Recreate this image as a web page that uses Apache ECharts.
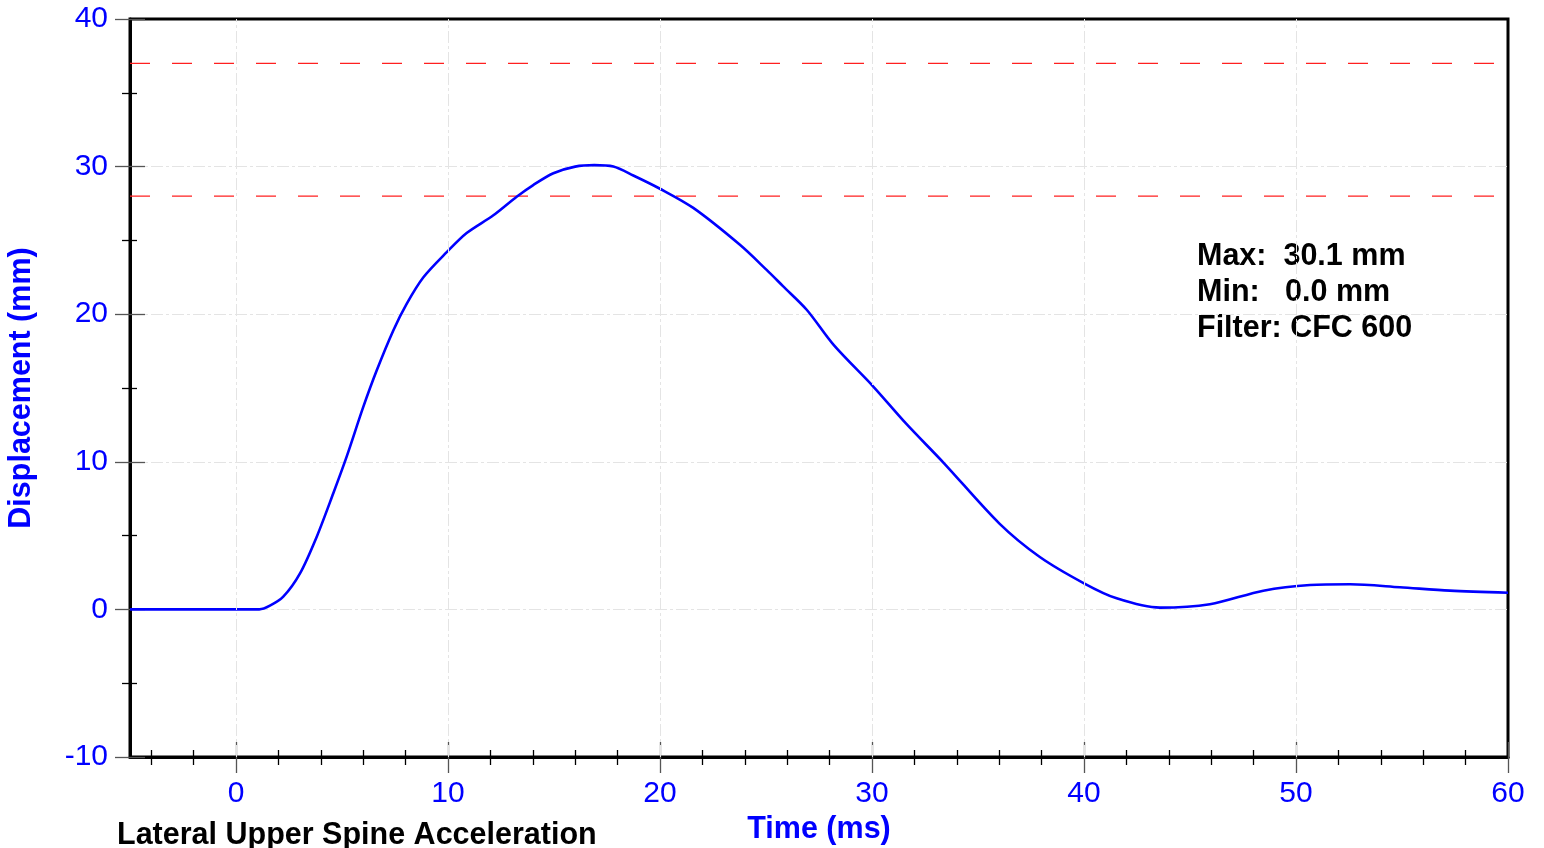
<!DOCTYPE html>
<html>
<head>
<meta charset="utf-8">
<script src="https://cdn.jsdelivr.net/npm/echarts@6/dist/echarts.min.js"></script>
<style>
html, body { margin: 0; padding: 0; background: #fff; }
#chart { width: 1544px; height: 848px; }
</style>
</head>
<body>
<div id="chart"></div>
<script>
// displacement trace
const times = [-5, 1.1, 1.6, 2.23, 3.02, 3.81, 4.59, 5.22, 6.0, 6.64, 7.42, 8.05, 8.84, 9.94, 10.88, 12.14, 13.24, 14.02, 14.97, 16.0, 16.9, 17.8, 18.74, 20.0, 21.57, 23.77, 25.03, 25.8, 26.92, 28.2, 30.06, 31.6, 33.4, 36.0, 37.9, 40.0, 41.54, 43.58, 45.94, 48.46, 50.66, 52.55, 54.9, 57.26, 60];
const displacement = [0, 0, 0.25, 0.86, 2.44, 4.93, 7.87, 10.35, 13.7, 16.2, 18.9, 20.7, 22.5, 24.2, 25.5, 26.7, 27.96, 28.75, 29.55, 30.0, 30.1, 30.0, 29.4, 28.5, 27.2, 24.7, 23.0, 21.9, 20.3, 17.9, 15.1, 12.6, 9.9, 5.83, 3.57, 1.77, 0.75, 0.12, 0.35, 1.27, 1.65, 1.7, 1.5, 1.27, 1.13];

// limit lines (mm)
const limits = [37, 28];

// axis range and ticks
const xMin = -5, xMax = 60;
const yMin = -10, yMax = 40;
const xMajor = [0, 10, 20, 30, 40, 50, 60];
const xMinor = [-4, -2, 2, 4, 6, 8, 12, 14, 16, 18, 22, 24, 26, 28, 32, 34, 36, 38, 42, 44, 46, 48, 52, 54, 56, 58];
const xGrid = [0, 10, 20, 30, 40, 50];
const yMajor = [-10, 0, 10, 20, 30, 40];
const yMinor = [-5, 5, 15, 25, 35];

const filterName = 'CFC 600';
const chartTitle = 'Lateral Upper Spine Acceleration';

const maxVal = Math.max(...displacement);
const minVal = Math.min(...displacement);

const blue = '#0000ff';
const font = '"Liberation Sans", Arial, sans-serif';
const gridStyle = { color: '#e4e4e4', width: 1, type: [12, 3, 3, 3] };
const plotRect = { left: 130, right: 36, top: 19, bottom: 91, outerBoundsMode: 'none' };

const chart = echarts.init(document.getElementById('chart'));

// extra axes that only draw ticks crossing the frame
const tickAxisX = (idx, vals, off, len, color) => ({
    gridIndex: idx, type: 'value', min: xMin, max: xMax, position: 'bottom', offset: off,
    axisLine: { show: false, onZero: false },
    axisLabel: { show: false },
    splitLine: { show: false },
    axisTick: { show: true, customValues: vals, length: len, lineStyle: { color: color, width: 1.3 } }
});

const tickAxisY = (idx, vals, off, len, color) => ({
    gridIndex: idx, type: 'value', min: yMin, max: yMax, position: 'left', offset: off,
    axisLine: { show: false, onZero: false },
    axisLabel: { show: false },
    splitLine: { show: false },
    axisTick: { show: true, customValues: vals, length: len, lineStyle: { color: color, width: 1.3 } }
});

const limitSeries = limits.map(v => ({
    type: 'line', silent: true, z: 2, showSymbol: false,
    data: [[xMin, v], [xMax, v]],
    lineStyle: { color: '#ff2020', width: 1.2, type: [20, 22] }
}));

const option = {
    animation: false,
    grid: [
        Object.assign({ show: true, borderColor: '#000', borderWidth: 3 }, plotRect),
        Object.assign({}, plotRect),
        Object.assign({}, plotRect)
    ],
    xAxis: [
        {
            gridIndex: 0, type: 'value', min: xMin, max: xMax, position: 'bottom',
            name: 'Time (ms)', nameLocation: 'middle', nameGap: 56,
            nameTextStyle: { color: blue, fontSize: 30.5, fontWeight: 'bold', fontFamily: font },
            axisLine: { show: true, onZero: false, lineStyle: { color: '#000', width: 3 } },
            axisTick: { show: false },
            splitLine: { show: false },
            axisLabel: { customValues: xMajor, color: blue, fontSize: 30, fontFamily: font, margin: 22 }
        },
        tickAxisX(1, xMajor, -15, 31, '#555'),
        tickAxisX(2, xMinor, -7, 15, '#000')
    ],
    yAxis: [
        {
            gridIndex: 0, type: 'value', min: yMin, max: yMax, interval: 10, position: 'left',
            name: 'Displacement (mm)', nameLocation: 'middle', nameGap: 93,
            nameTextStyle: { color: blue, fontSize: 30.5, fontWeight: 'bold', fontFamily: font },
            axisLine: { show: true, onZero: false, lineStyle: { color: '#000', width: 3 } },
            axisTick: { show: false },
            splitLine: { show: true, showMinLine: false, showMaxLine: false, lineStyle: gridStyle },
            axisLabel: { color: blue, fontSize: 30, fontFamily: font, margin: 22 }
        },
        tickAxisY(1, yMajor, -15, 30, '#555'),
        tickAxisY(2, yMinor, -7, 15, '#000')
    ],
    series: [
        {
            type: 'line', data: [], silent: true, z: 1,
            markLine: {
                silent: true, symbol: 'none', animation: false,
                label: { show: false },
                lineStyle: gridStyle,
                data: xGrid.map(v => ({ xAxis: v }))
            }
        }
    ].concat(limitSeries, [
        {
            type: 'line', z: 3,
            data: times.map((t, i) => [t, displacement[i]]),
            showSymbol: false, smooth: 0.3,
            lineStyle: { color: blue, width: 2.6 }
        }
    ]),
    graphic: [
        {
            type: 'text', left: 1197, top: 239,
            style: {
                text: 'Max:  ' + maxVal.toFixed(1) + ' mm\nMin:   ' + minVal.toFixed(1) + ' mm\nFilter: ' + filterName,
                font: 'bold 30.5px ' + font, fill: '#000', lineHeight: 36
            }
        },
        {
            type: 'text', left: 117, top: 820,
            style: { text: chartTitle, font: 'bold 30.5px ' + font, fill: '#000' }
        }
    ]
};

chart.setOption(option);
</script>
</body>
</html>
